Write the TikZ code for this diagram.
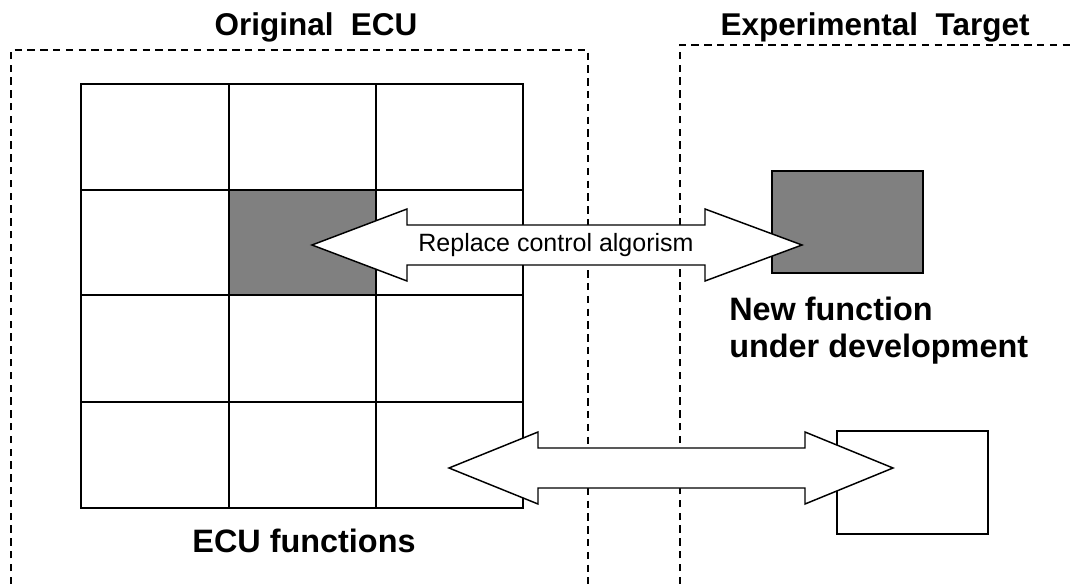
\documentclass[tikz,border=0pt]{standalone}
\usepackage{fontspec}
\setmainfont{Liberation Sans}
\usetikzlibrary{calc}
\definecolor{blockgray}{RGB}{128,128,128}
\begin{document}
\begin{tikzpicture}[x=0.75pt,y=-0.75pt,
  frame/.style={draw=black, line width=0.9pt, dash pattern=on 5.6pt off 4pt},
  cellline/.style={draw=black, line width=1.1pt},
  fnbox/.style={draw=black, line width=1.1pt},
  bigarrow/.style={draw=black, fill=white, line width=1.1pt, line join=miter},
  title/.style={font=\fontsize{23.6}{28}\selectfont\bfseries, inner sep=0pt},
  caption/.style={font=\fontsize{24.3}{28}\selectfont\bfseries, inner sep=0pt, align=left},
  arrowtext/.style={font=\fontsize{18.75}{22}\selectfont, inner sep=0pt}]
\useasboundingbox (0,0) rectangle (1070,584);

% dashed outlines of the two units
\draw[frame] (11,584) -- (11,50) -- (588,50) -- (588,584);
\draw[frame] (680,584) -- (680,45) -- (1075,45);

% ECU function grid with the replaced block shaded
\fill[blockgray] (229,190) rectangle (376,295);
\draw[cellline] (81,84) rectangle (523,508);
\draw[cellline] (229,84) -- (229,508) (376,84) -- (376,508);
\draw[cellline] (81,190) -- (523,190) (81,295) -- (523,295) (81,402) -- (523,402);

% function blocks on the experimental target
\draw[fnbox, fill=blockgray] (772,171) rectangle (923,273);
\draw[fnbox] (837,431) rectangle (988,534);

% titles and captions
\node[title, anchor=base] (ecutitle) at (316,36) {Original\ \ ECU};
\node[title, anchor=base] (exptitle) at (875,36) {Experimental\ \ Target};
\node[caption, anchor=base] (ecucap) at (304,552) {ECU functions};
\node[caption, anchor=base west] (newcap1) at (729,321) {New function};
\node[caption, anchor=base west] (newcap2) at (729,358) {under development};

% upper double arrow: replacing the control algorithm
\coordinate (upL) at (312,245);
\coordinate (upR) at (802,245);
\draw[bigarrow] (upL) -- ++(95,-36) -- ++(0,16) -- ($(upR)+(-97,-20)$) -- ++(0,-16)
  -- (upR) -- ++(-97,36) -- ++(0,-16) -- ($(upL)+(95,20)$) -- ++(0,16) -- cycle;
\node[arrowtext] (algo) at (556,245) {Replace control algorism};

% lower double arrow: other exchanged data
\coordinate (loL) at (449,468);
\coordinate (loR) at (893,468);
\draw[bigarrow] (loL) -- ++(89,-36) -- ++(0,16) -- ($(loR)+(-88,-20)$) -- ++(0,-16)
  -- (loR) -- ++(-88,36) -- ++(0,-16) -- ($(loL)+(89,20)$) -- ++(0,16) -- cycle;
\end{tikzpicture}
\end{document}
